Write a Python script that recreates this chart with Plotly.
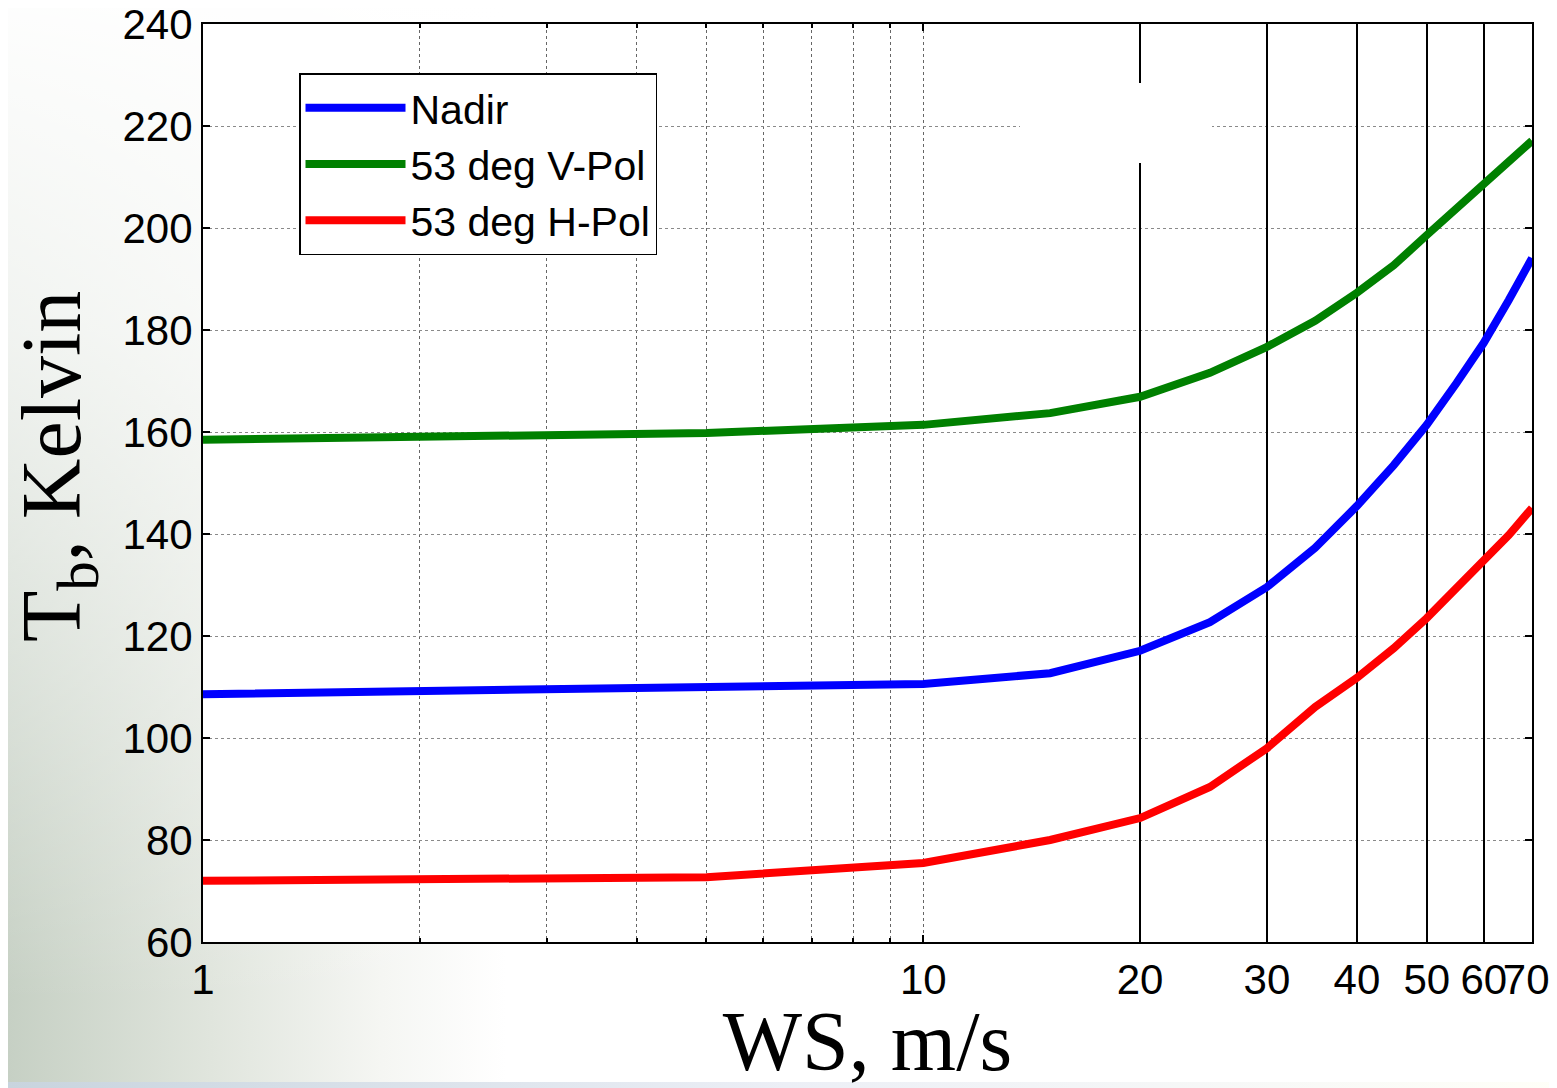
import base64
import math
import plotly.graph_objects as go

# ---- data ----
ws = [1, 5, 10, 15, 20, 25, 30, 35, 40, 45, 50, 55, 60, 65, 70]
nadir = [108.6, 109.8, 110.6, 112.7, 117.1, 122.7, 129.6, 137.3, 145.5, 153.5, 161.4, 169.6, 177.5, 185.9, 194.1]
vpol = [158.5, 159.8, 161.4, 163.7, 166.9, 171.6, 176.7, 181.8, 187.3, 192.7, 198.6, 203.7, 208.4, 212.7, 217.1]
hpol = [72.0, 72.7, 75.5, 80.0, 84.3, 90.4, 98.0, 106.1, 111.8, 117.6, 123.5, 129.4, 134.3, 139.8, 145.1]

series_names = ["Nadir", "53 deg V-Pol", "53 deg H-Pol"]
series_colors = ["#0000FF", "#008000", "#FF0000"]

x_tickvals = [1, 10, 20, 30, 40, 50, 60, 70]
x_ticktext = ["1", "10", "20", "30", "40", "50", "60", "70\u00a0"]
x_minor = [2, 3, 4, 5, 6, 7, 8, 9]
x_solid_grid = [20, 30, 40, 50, 60, 70]
y_ticks = [60, 80, 100, 120, 140, 160, 180, 200, 220, 240]

# page has an 8px body margin -> compensate
OFF = 8
W, H = 1557, 1088 - OFF
ML, MT, MB = 203 - OFF, 24 - OFF, 146
PW, PH = 1329, 918
MR = W - ML - PW

# ---- background gradient (svg data uri) ----
svg = f'''<svg xmlns="http://www.w3.org/2000/svg" width="{W}" height="{H}" viewBox="0 0 {W} {H}" preserveAspectRatio="none">
<defs>
<linearGradient id="h" x1="0" y1="0" x2="1" y2="0">
<stop offset="0" stop-color="rgb(198,208,196)"/>
<stop offset="0.13" stop-color="rgb(224,229,221)"/>
<stop offset="0.24" stop-color="rgb(245,246,243)"/>
<stop offset="0.32" stop-color="rgb(255,255,255)"/>
<stop offset="1" stop-color="rgb(255,255,255)"/>
</linearGradient>
<linearGradient id="v" x1="0" y1="0" x2="0" y2="1">
<stop offset="0" stop-color="white" stop-opacity="0.97"/>
<stop offset="0.3" stop-color="white" stop-opacity="0.75"/>
<stop offset="0.6" stop-color="white" stop-opacity="0.4"/>
<stop offset="0.92" stop-color="white" stop-opacity="0"/>
</linearGradient>
<linearGradient id="b" x1="0" y1="0" x2="1" y2="0">
<stop offset="0" stop-color="rgb(200,212,222)"/>
<stop offset="0.5" stop-color="rgb(236,239,246)"/>
<stop offset="1" stop-color="rgb(255,255,248)"/>
</linearGradient>
</defs>
<rect x="0" y="0" width="{W}" height="{H}" fill="url(#h)"/>
<rect x="0" y="0" width="{W}" height="{H}" fill="url(#v)"/>
<rect x="0" y="{H-6}" width="{W}" height="6" fill="url(#b)"/>
<rect x="{ML}" y="{MT}" width="{PW}" height="{PH}" fill="white"/>
</svg>'''
bg_uri = "data:image/svg+xml;base64," + base64.b64encode(svg.encode()).decode()

fig = go.Figure()
for name, vals, col in zip(series_names, [nadir, vpol, hpol], series_colors):
    fig.add_trace(go.Scatter(x=ws, y=vals, mode="lines", name=name,
                             line=dict(color=col, width=8)))
# invisible trace so the overlay axis (solid grid) is drawn
fig.add_trace(go.Scatter(x=ws, y=nadir, xaxis="x2", mode="lines",
                         line=dict(color="rgba(0,0,0,0)", width=0),
                         showlegend=False, hoverinfo="skip"))

tick_font = dict(family="Liberation Sans, Arial", size=42, color="black")
title_font = dict(family="Liberation Serif, Times New Roman", size=84, color="black")
xr = [0, math.log10(70)]

fig.update_layout(
    width=W, height=H,
    margin=dict(l=ML, r=MR, t=MT, b=MB, autoexpand=False),
    paper_bgcolor="rgba(0,0,0,0)",
    plot_bgcolor="white",
    font=tick_font,
    images=[dict(source=bg_uri, xref="paper", yref="paper",
                 x=-ML / PW, y=1 + MT / PH, sizex=W / PW, sizey=H / PH,
                 xanchor="left", yanchor="top", sizing="stretch", layer="below")],
    xaxis=dict(
        type="log", range=xr, automargin=False,
        tickmode="array", tickvals=x_tickvals, ticktext=x_ticktext,
        tickfont=tick_font, tickangle=0, ticklabeloverflow="allow",
        showgrid=True, gridcolor="#666666", griddash="dot", gridwidth=1,
        minor=dict(tickmode="array", tickvals=x_minor, showgrid=True,
                   gridcolor="#666666", griddash="dot", gridwidth=1,
                   ticks="inside", ticklen=4, tickcolor="black"),
        ticks="inside", ticklen=7, tickcolor="black", tickwidth=1.5,
        showline=True, linecolor="black", linewidth=2, mirror="ticks",
        zeroline=False,
        title=dict(text="WS, m/s", standoff=24, font=title_font),
    ),
    xaxis2=dict(
        type="log", range=xr, overlaying="x", anchor="y", automargin=False,
        tickmode="array", tickvals=x_solid_grid, showticklabels=False,
        ticks="", showgrid=True, gridcolor="black", gridwidth=1.6,
        showline=False, zeroline=False,
    ),
    yaxis=dict(
        range=[60, 240], tickmode="array", tickvals=y_ticks, automargin=False,
        tickfont=tick_font, ticklabeloverflow="allow",
        showgrid=True, gridcolor="#8a8a8a", griddash="dot", gridwidth=1,
        ticks="inside", ticklen=7, tickcolor="black", tickwidth=1.5,
        showline=True, linecolor="black", linewidth=2, mirror="ticks",
        zeroline=False,
    ),
    annotations=[dict(text="T<sub>b</sub>, Kelvin", textangle=-90,
                      xref="paper", yref="paper",
                      x=(58 - 203) / PW, y=1 - (467 - 24) / PH,
                      xanchor="center", yanchor="middle", showarrow=False,
                      font=title_font)],
    legend=dict(
        x=(299 - 203) / PW, y=1 - (73 - 24) / PH, xanchor="left", yanchor="top",
        bgcolor="white", bordercolor="black", borderwidth=1.5,
        font=dict(family="Liberation Sans, Arial", size=41, color="black"),
        itemwidth=100, tracegroupgap=0,
    ),
    shapes=[dict(type="rect", xref="paper", yref="paper",
                 x0=(1020 - 203) / PW, x1=(1212 - 203) / PW,
                 y0=1 - (163 - 24) / PH, y1=1 - (83 - 24) / PH,
                 fillcolor="white", line=dict(width=0), layer="above")],
    showlegend=True,
)

fig.write_html("out.html")
